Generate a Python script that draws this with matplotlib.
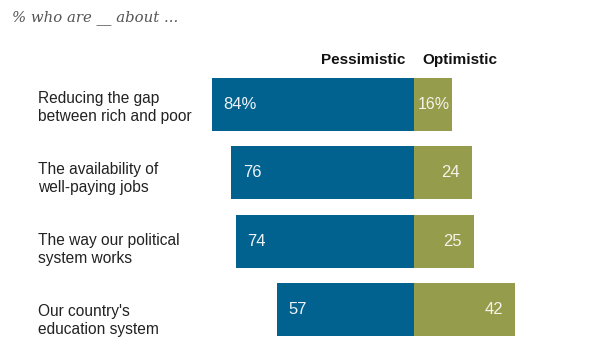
import matplotlib
matplotlib.use("Agg")
import matplotlib.pyplot as plt

categories = [
    "Reducing the gap\nbetween rich and poor",
    "The availability of\nwell-paying jobs",
    "The way our political\nsystem works",
    "Our country's\neducation system",
]
pessimistic = [84, 76, 74, 57]
optimistic = [16, 24, 25, 42]
pess_labels = ["84%", "76", "74", "57"]
opt_labels = ["16%", "24", "25", "42"]

BLUE = "#02628f"
OLIVE = "#959c4b"
W, H = 600, 337

fig = plt.figure(figsize=(W / 100, H / 100), dpi=100)
ax = fig.add_axes([0, 0, 1, 1])

# pixel-based scale: zero line at x=414, 2.405 px per percentage point
px_per = 2.405
x0 = 414
ax.set_xlim(-x0 / px_per, (W - x0) / px_per)
row_gap = 68.33
first_center = 104.5
ax.set_ylim((H - first_center) / row_gap, -first_center / row_gap)
ax.axis("off")

ypos = list(range(len(categories)))
bh = 0.776
ax.barh(ypos, [-v for v in pessimistic], height=bh, color=BLUE, edgecolor="none")
ax.barh(ypos, optimistic, height=bh, color=OLIVE, edgecolor="none")

font = "Liberation Sans"
num_size = 12
label_gap = 71.0  # category labels sit on a slightly wider pitch than the bars
for i, (y, p, o, pl, ol, cat) in enumerate(zip(ypos, pessimistic, optimistic,
                                                pess_labels, opt_labels, categories)):
    ax.text(-p + 11.5 / px_per, y, pl, ha="left", va="center", color="#eef3f7",
            fontsize=num_size, family=font)
    # digits line up 12 px inside the bar end; a trailing % hangs past them
    pad = 3 if ol.endswith("%") else 12
    ax.text(o - pad / px_per, y, ol, ha="right", va="center", color="#f4f4ea",
            fontsize=num_size - 0.5 if ol.endswith("%") else num_size, family=font)
    ly = (107.5 + i * label_gap - first_center) / row_gap
    ax.text(-(x0 - 38) / px_per, ly, cat, ha="left", va="center", color="#222222",
            fontsize=11.2, family=font, linespacing=1.22)

fig.text(405 / W, 1 - 60 / H, "Pessimistic", ha="right", va="center",
         fontsize=11, fontweight="bold", color="#111111", family=font)
fig.text(422 / W, 1 - 60 / H, "Optimistic", ha="left", va="center",
         fontsize=11, fontweight="bold", color="#111111", family=font)
fig.text(12 / W, 1 - 18 / H, "% who are __ about ...", ha="left", va="center",
         fontsize=10.7, style="italic", color="#555555", family="DejaVu Serif")

fig.savefig("out.png", dpi=100, facecolor="white")
